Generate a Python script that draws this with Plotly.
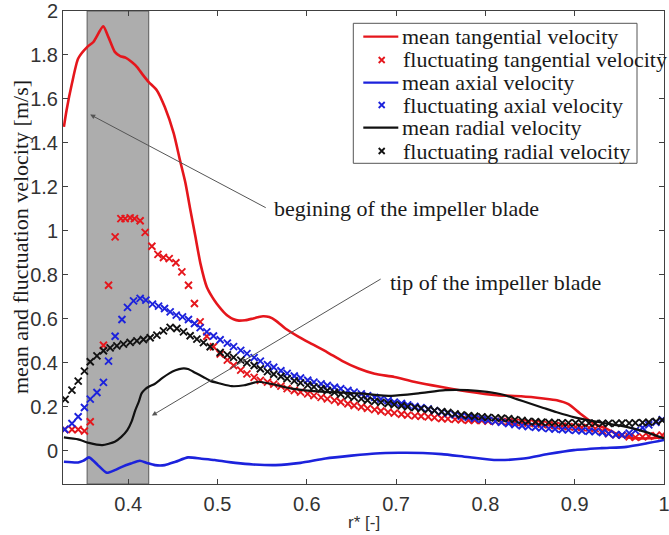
import plotly.graph_objects as go

# ---------------- data ----------------
# mean tangential velocity (red line)
tan_mean_x = [0.328,0.331,0.337,0.344,0.354,0.361,0.372,0.378,0.385,0.391,0.397,0.404,0.410,0.416,0.423,0.432,0.441,0.451,0.458,0.464,
              0.469,0.475,0.481,0.488,0.494,0.499,0.505,0.511,0.518,0.524,0.531,0.538,0.545,0.551,0.558,0.566,0.576,0.591,0.606,0.623,
              0.640,0.658,0.676,0.698,0.720,0.751,0.780,0.813,0.840,0.865,0.880,0.893,0.906,0.921,0.936,0.950,0.962,0.975,0.988,1.0]
tan_mean_y = [1.473,1.549,1.670,1.784,1.836,1.859,1.930,1.880,1.814,1.795,1.788,1.768,1.745,1.712,1.677,1.640,1.563,1.443,1.321,1.220,
              1.109,0.980,0.850,0.745,0.700,0.670,0.640,0.615,0.598,0.592,0.594,0.600,0.607,0.612,0.608,0.590,0.556,0.518,0.485,0.448,
              0.408,0.374,0.350,0.336,0.314,0.290,0.270,0.253,0.248,0.238,0.230,0.212,0.170,0.125,0.100,0.070,0.060,0.056,0.058,0.062]

# mean axial velocity (blue line)
ax_mean_x = [0.328,0.344,0.350,0.356,0.361,0.366,0.376,0.385,0.393,0.403,0.413,0.421,0.430,0.441,0.453,0.467,0.482,0.497,0.510,0.520,
             0.540,0.565,0.593,0.621,0.650,0.677,0.703,0.730,0.751,0.780,0.813,0.843,0.870,0.899,0.930,0.958,0.981,1.0]
ax_mean_y = [-0.050,-0.053,-0.045,-0.030,-0.045,-0.065,-0.100,-0.088,-0.073,-0.058,-0.045,-0.055,-0.065,-0.065,-0.050,-0.030,-0.036,-0.042,-0.050,-0.055,
             -0.062,-0.065,-0.055,-0.035,-0.022,-0.012,-0.009,-0.010,-0.015,-0.028,-0.042,-0.035,-0.015,0.003,0.012,0.018,0.034,0.049]

# mean radial velocity (black line)
rad_mean_x = [0.328,0.344,0.356,0.371,0.385,0.392,0.399,0.404,0.408,0.412,0.415,0.419,0.423,0.430,0.438,0.446,0.453,0.460,0.467,0.475,
              0.484,0.492,0.503,0.516,0.530,0.546,0.565,0.583,0.620,0.658,0.695,0.725,0.755,0.780,0.802,0.820,0.835,0.850,0.865,0.880,
              0.900,0.925,0.958,0.980,1.0]
rad_mean_y = [0.061,0.052,0.036,0.026,0.041,0.062,0.094,0.135,0.185,0.225,0.261,0.280,0.291,0.305,0.330,0.352,0.366,0.374,0.372,0.355,
              0.336,0.318,0.306,0.294,0.298,0.314,0.300,0.283,0.268,0.261,0.250,0.261,0.276,0.276,0.268,0.255,0.235,0.215,0.195,0.175,
              0.152,0.132,0.109,0.085,0.056]

# fluctuating components (x markers)
tan_fl_x_head = [0.329,0.337,0.344,0.351,0.3575,0.3723,0.378,0.3854,0.3918,0.3966,0.4022,0.407,0.4134,0.419,0.4265,0.4333,0.4395,0.4459,
                 0.4534,0.4601,0.4675,0.4742,0.4806,0.488,0.4955]
tan_fl_y_head = [0.097,0.097,0.097,0.090,0.132,0.480,0.753,0.973,1.056,1.056,1.059,1.056,1.046,0.993,0.930,0.893,0.879,0.874,
                 0.855,0.814,0.753,0.670,0.586,0.521,0.473]
ax_fl_x_head = [0.329,0.337,0.344,0.351,0.3575,0.365,0.3723,0.378,0.3854,0.393,0.3992,0.406,0.4134,0.4198,0.4272,0.434,0.4407,0.447,
                0.4538,0.4608,0.4675,0.4742,0.4806,0.488,0.4955]
ax_fl_y_head = [0.097,0.124,0.155,0.197,0.235,0.265,0.311,0.408,0.521,0.597,0.652,0.682,0.693,0.685,0.667,0.658,0.647,0.632,
                0.617,0.609,0.597,0.579,0.560,0.541,0.522]
rad_fl_x_head = [0.3294,0.337,0.344,0.351,0.3575,0.365,0.3723,0.3798,0.3873,0.3947,0.4022,0.4097,0.4171,0.4246,0.4321,0.4395,0.447,
                 0.4545,0.4619,0.4694,0.4769,0.4843,0.4918]
rad_fl_y_head = [0.234,0.276,0.317,0.362,0.405,0.432,0.455,0.468,0.477,0.485,0.493,0.500,0.506,0.514,0.526,0.545,0.561,
                 0.556,0.541,0.523,0.508,0.492,0.473]

fl_x_tail = [0.503,0.511,0.518,0.526,0.533,0.541,0.548,0.556,0.563,0.571,
             0.578,0.586,0.593,0.601,0.608,0.616,0.623,0.631,0.638,0.646,
             0.653,0.661,0.668,0.676,0.683,0.691,0.698,0.706,0.713,0.721,
             0.728,0.736,0.743,0.751,0.758,0.766,0.773,0.781,0.788,0.796,
             0.803,0.811,0.818,0.826,0.833,0.841,0.848,0.856,0.863,0.871,
             0.878,0.886,0.893,0.901,0.908,0.916,0.923,0.931,0.938,0.946,
             0.953,0.961,0.968,0.976,0.983,0.991,0.998]
tan_fl_y_tail = [0.440,0.412,0.388,0.367,0.350,0.334,0.320,0.312,0.303,0.294,
                 0.283,0.274,0.267,0.259,0.251,0.243,0.236,0.229,0.222,0.214,
                 0.206,0.199,0.193,0.187,0.181,0.176,0.171,0.166,0.162,0.159,
                 0.157,0.154,0.151,0.147,0.145,0.143,0.141,0.139,0.138,0.137,
                 0.135,0.134,0.133,0.132,0.130,0.128,0.126,0.124,0.121,0.118,
                 0.115,0.112,0.110,0.108,0.106,0.104,0.101,0.090,0.078,0.073,
                 0.071,0.064,0.061,0.063,0.066,0.069,0.071]
ax_fl_y_tail = [0.505,0.490,0.474,0.457,0.442,0.424,0.408,0.392,0.380,0.364,
                0.352,0.340,0.331,0.321,0.312,0.304,0.297,0.289,0.282,0.275,
                0.267,0.259,0.251,0.243,0.235,0.228,0.221,0.215,0.209,0.202,
                0.196,0.190,0.183,0.176,0.170,0.163,0.157,0.152,0.147,0.143,
                0.139,0.134,0.129,0.124,0.119,0.114,0.110,0.107,0.104,0.101,
                0.099,0.097,0.095,0.093,0.091,0.089,0.087,0.083,0.078,0.073,
                0.072,0.080,0.092,0.105,0.118,0.130,0.142]
rad_fl_y_tail = [0.447,0.436,0.425,0.412,0.400,0.388,0.373,0.360,0.348,0.338,
                 0.328,0.318,0.309,0.299,0.291,0.282,0.274,0.266,0.258,0.250,
                 0.243,0.236,0.230,0.225,0.220,0.215,0.210,0.205,0.200,0.196,
                 0.192,0.188,0.183,0.178,0.174,0.168,0.163,0.160,0.157,0.154,
                 0.152,0.150,0.148,0.146,0.142,0.138,0.134,0.132,0.130,0.129,
                 0.128,0.127,0.127,0.127,0.126,0.126,0.125,0.125,0.125,0.125,
                 0.126,0.126,0.127,0.128,0.130,0.134,0.139]

blade_region = [0.354, 0.423]
x_ticks = [0.4, 0.5, 0.6, 0.7, 0.8, 0.9, 1.0]
x_tick_text = ["0.4", "0.5", "0.6", "0.7", "0.8", "0.9", "1"]
y_ticks = [0, 0.2, 0.4, 0.6, 0.8, 1.0, 1.2, 1.4, 1.6, 1.8, 2.0]
y_tick_text = ["0", "0.2", "0.4", "0.6", "0.8", "1", "1.2", "1.4", "1.6", "1.8", "2"]

legend_labels = ["mean tangential velocity", "fluctuating tangential velocity", "mean axial velocity",
                 "fluctuating axial velocity", "mean radial velocity", "fluctuating radial velocity"]

# ---------------- styling ----------------
RED = "#e5161c"
BLUE = "#1c22dc"
BLACK = "#111111"
SERIF = "Liberation Serif, Times New Roman, serif"
SANS = "Liberation Sans, Arial, sans-serif"

W, H = 669, 535
ML, MR, MT, MB = 63, 5, 11, 51
PW, PH = W - ML - MR, H - MT - MB


def px2paper(px, py):
    return (px - ML) / PW, (H - MB - py) / PH


fig = go.Figure()

def mk(col):
    return dict(symbol="x-thin", size=7, color=col, line=dict(width=1.9, color=col))

fig.add_trace(go.Scatter(x=tan_mean_x, y=tan_mean_y, mode="lines", line=dict(color=RED, width=2.6, shape="spline", smoothing=0.6)))
fig.add_trace(go.Scatter(x=tan_fl_x_head + fl_x_tail, y=tan_fl_y_head + tan_fl_y_tail, mode="markers", marker=mk(RED)))
fig.add_trace(go.Scatter(x=ax_mean_x, y=ax_mean_y, mode="lines", line=dict(color=BLUE, width=2.6, shape="spline", smoothing=0.6)))
fig.add_trace(go.Scatter(x=ax_fl_x_head + fl_x_tail, y=ax_fl_y_head + ax_fl_y_tail, mode="markers", marker=mk(BLUE)))
fig.add_trace(go.Scatter(x=rad_mean_x, y=rad_mean_y, mode="lines", line=dict(color=BLACK, width=2.2, shape="spline", smoothing=0.6)))
fig.add_trace(go.Scatter(x=rad_fl_x_head + fl_x_tail, y=rad_fl_y_head + rad_fl_y_tail, mode="markers", marker=mk(BLACK)))

# ---------------- manual legend ----------------
leg_rows_px = [36.7, 60.0, 82.7, 105.0, 127.7, 151.0]
leg_kind = ["line", "marker", "line", "marker", "line", "marker"]
leg_cols = [RED, RED, BLUE, BLUE, BLACK, BLACK]
shapes = []
annotations = []

bx0, by0 = px2paper(353.3, 163.3)
bx1, by1 = px2paper(637, 23.3)
shapes.append(dict(type="rect", xref="paper", yref="paper", x0=bx0, y0=by0, x1=bx1, y1=by1,
                   line=dict(color="#555555", width=1), fillcolor="white", layer="below"))

mx_list, my_list, mc_list = [], [], []
for row, kind, col, lab in zip(leg_rows_px, leg_kind, leg_cols, legend_labels):
    _, yy = px2paper(0, row)
    if kind == "line":
        lx0, _ = px2paper(363.3, row)
        lx1, _ = px2paper(398.3, row)
        shapes.append(dict(type="line", xref="paper", yref="paper", x0=lx0, x1=lx1, y0=yy, y1=yy,
                           line=dict(color=col, width=2.2), layer="above"))
    else:
        mxx, _ = px2paper(381.7, row)
        mx_list.append(mxx); my_list.append(yy); mc_list.append(col)
    tx, _ = px2paper(400.5, row)
    annotations.append(dict(xref="paper", yref="paper", x=tx, y=yy, text=lab, showarrow=False,
                            xanchor="left", yanchor="middle", font=dict(family=SERIF, size=22, color="#1a1a1a")))

fig.add_trace(go.Scatter(x=mx_list, y=my_list, mode="markers", xaxis="x2", yaxis="y2",
                         marker=dict(symbol="x-thin", size=6, color=mc_list, line=dict(width=1.8, color=mc_list)),
                         hoverinfo="skip"))

# blade region shading
shapes.append(dict(type="rect", xref="x", yref="paper", x0=blade_region[0], x1=blade_region[1], y0=0, y1=1,
                   fillcolor="#adadad", line=dict(color="#5a5a5a", width=1), layer="below"))

# arrows and annotation texts
annotations.append(dict(x=0.3574, y=1.529, ax=0.5557, ay=1.102, xref="x", yref="y", axref="x", ayref="y",
                        text="", showarrow=True, arrowhead=2, arrowsize=1, arrowwidth=1, arrowcolor="#555555",
                        standoff=0, startstandoff=0))
annotations.append(dict(x=0.5613, y=1.100, xref="x", yref="y", text="begining of the impeller blade", showarrow=False,
                        xanchor="left", yanchor="middle", font=dict(family=SERIF, size=22, color="#1a1a1a")))
annotations.append(dict(x=0.4265, y=0.160, ax=0.6844, ay=0.785, xref="x", yref="y", axref="x", ayref="y",
                        text="", showarrow=True, arrowhead=2, arrowsize=1, arrowwidth=1, arrowcolor="#555555",
                        standoff=0, startstandoff=0))
annotations.append(dict(x=0.6912, y=0.764, xref="x", yref="y", text="tip of the impeller blade", showarrow=False,
                        xanchor="left", yanchor="middle", font=dict(family=SERIF, size=22, color="#1a1a1a")))

# axis titles
tx, ty = px2paper(20, 237)
annotations.append(dict(xref="paper", yref="paper", x=tx, y=ty, text="mean and fluctuation velocity [m/s]",
                        textangle=-90, showarrow=False, xanchor="center", yanchor="middle",
                        font=dict(family=SERIF, size=22, color="#1a1a1a")))
tx, ty = px2paper(363.5, 522)
annotations.append(dict(xref="paper", yref="paper", x=tx, y=ty, text="r* [-]", showarrow=False,
                        xanchor="center", yanchor="middle", font=dict(family=SANS, size=17, color="#333333")))

axis_common = dict(showline=True, linecolor="#404040", linewidth=1, mirror="ticks", ticks="inside",
                   ticklen=5, tickcolor="#404040", showgrid=False, zeroline=False, automargin=False,
                   ticklabeloverflow="allow",
                   tickfont=dict(family=SANS, size=20, color="#333333"))

fig.update_layout(
    width=W, height=H,
    margin=dict(l=ML, r=MR, t=MT, b=MB, autoexpand=False),
    paper_bgcolor="white", plot_bgcolor="white",
    showlegend=False,
    xaxis=dict(range=[0.327, 1.0], tickvals=x_ticks, ticktext=x_tick_text, ticklabelstandoff=2, **axis_common),
    yaxis=dict(range=[-0.151, 2.0], tickvals=y_ticks, ticktext=y_tick_text, ticklabelstandoff=0, **axis_common),
    xaxis2=dict(range=[0, 1], overlaying="x", visible=False, fixedrange=True),
    yaxis2=dict(range=[0, 1], overlaying="y", visible=False, fixedrange=True),
    shapes=shapes,
    annotations=annotations,
)

fig.write_html("out.html", config={"displayModeBar": False},
               post_script="document.body.style.margin='0';document.body.style.padding='0';")
